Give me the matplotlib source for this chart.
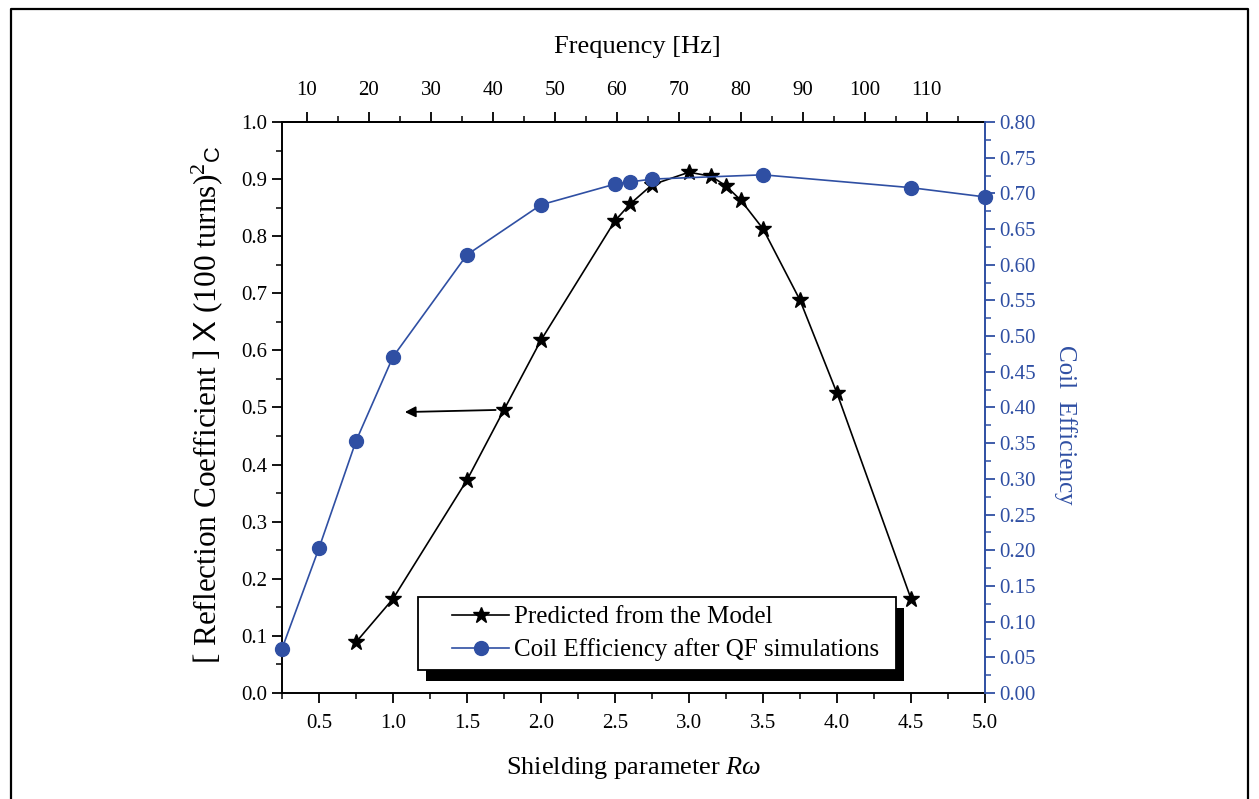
import numpy as np
import matplotlib
matplotlib.use("Agg")
import matplotlib.pyplot as plt
from matplotlib.lines import Line2D
from matplotlib.patches import Rectangle
from matplotlib.legend_handler import HandlerLine2D
from matplotlib.ticker import MultipleLocator, FormatStrFormatter

plt.rcParams['font.family'] = ['Liberation Serif', 'DejaVu Serif']
plt.rcParams['mathtext.fontset'] = 'custom'
plt.rcParams['mathtext.rm'] = 'Liberation Serif'
plt.rcParams['mathtext.it'] = 'Liberation Serif:italic'
plt.rcParams['mathtext.sf'] = 'Liberation Sans'

BLUE = '#2f4fa3'

# Predicted reflection coefficient (left axis)
rw_model = [0.75, 1.0, 1.5, 1.75, 2.0, 2.5, 2.6, 2.75, 3.0, 3.15, 3.25, 3.35, 3.5, 3.75, 4.0, 4.5]
refl_model = [0.089, 0.165, 0.373, 0.496, 0.618, 0.827, 0.856, 0.890, 0.912, 0.905,
              0.888, 0.863, 0.813, 0.688, 0.525, 0.165]

# Coil efficiency from QF simulations (right axis)
rw_sim = [0.25, 0.5, 0.75, 1.0, 1.5, 2.0, 2.5, 2.6, 2.75, 3.5, 4.5, 5.0]
eff_sim = [0.062, 0.203, 0.353, 0.471, 0.614, 0.684, 0.713, 0.716, 0.720, 0.726, 0.708, 0.695]

# Rw per Hz for the frequency scale on top
RW_PER_HZ = 0.04187

# arrow pointing the model curve to the left axis
arrow_tail = (1.75, 0.496)
arrow_head = (1.08, 0.492)

fig = plt.figure(figsize=(12.59, 7.99), dpi=100)
ax = fig.add_axes([282/1259, 106/799, 703/1259, 571/799])
ax2 = ax.twinx()
ax.set_facecolor('none')
ax2.set_facecolor('none')

ln1, = ax.plot(rw_model, refl_model, color='black', lw=1.2, marker='*',
               ms=12, mfc='black', mec='black', label='Predicted from the Model')
ln2, = ax2.plot(rw_sim, eff_sim, color=BLUE, lw=1.2, marker='o', ms=10,
                mfc=BLUE, mec=BLUE, label='Coil Efficiency after QF simulations', clip_on=False)

ax.annotate('', xy=arrow_head, xytext=arrow_tail,
            arrowprops=dict(arrowstyle='-|>', color='black', lw=1.3,
                            mutation_scale=16, shrinkA=6, shrinkB=0))

ax.set_xlim(0.25, 5.0)
ax.set_ylim(0, 1.0)
ax2.set_ylim(0, 0.8)

ax.xaxis.set_major_locator(MultipleLocator(0.5))
ax.xaxis.set_minor_locator(MultipleLocator(0.25))
ax.xaxis.set_major_formatter(FormatStrFormatter('%.1f'))
ax.yaxis.set_major_locator(MultipleLocator(0.1))
ax.yaxis.set_minor_locator(MultipleLocator(0.05))
ax.yaxis.set_major_formatter(FormatStrFormatter('%.1f'))
ax2.yaxis.set_major_locator(MultipleLocator(0.05))
ax2.yaxis.set_minor_locator(MultipleLocator(0.025))
ax2.yaxis.set_major_formatter(FormatStrFormatter('%.2f'))

for a in (ax, ax2):
    a.tick_params(which='major', direction='out', length=7, width=1.3, labelsize=15)
    a.tick_params(which='minor', direction='out', length=4, width=1.1)
    for s in a.spines.values():
        s.set_linewidth(1.4)

ax.spines['right'].set_visible(False)
ax.tick_params(axis='x', pad=8)
for side in ('left', 'top', 'bottom'):
    ax2.spines[side].set_visible(False)
ax2.spines['right'].set_color(BLUE)
ax2.tick_params(axis='y', which='both', colors=BLUE, labelcolor=BLUE)

# frequency scale along the top
top = ax.secondary_xaxis('top', functions=(lambda r: r / RW_PER_HZ, lambda f: f * RW_PER_HZ))
top.xaxis.set_major_locator(MultipleLocator(10))
top.xaxis.set_minor_locator(MultipleLocator(5))
top.tick_params(which='major', direction='out', length=7, width=1.3, labelsize=15, pad=9)
top.tick_params(which='minor', direction='out', length=4, width=1.1)
top.spines['top'].set_linewidth(1.4)

fig.text(637/1259, 1 - 47/799, 'Frequency [Hz]', ha='center', va='center', fontsize=19)
fig.text(634/1259, 1 - 768/799, r'Shielding parameter $R\omega$', ha='center', va='center', fontsize=19)
fig.text(207/1259, 1 - 405/799,
         r'[ Reflection Coefficient ] $\mathsf{X}$ (100 turns)$^{2}{}_{\mathsf{C}}$',
         ha='center', va='center', rotation=90, fontsize=22.5)
fig.text(1065/1259, 1 - 425/799, 'Coil  Efficiency', ha='center', va='center',
         rotation=270, fontsize=18, color=BLUE)

leg = ax2.legend([ln1, ln2], [ln1.get_label(), ln2.get_label()],
                 loc='lower left', bbox_to_anchor=(418/1259, 129/799, 478/1259, 72/799),
                 bbox_transform=fig.transFigure, mode='expand', borderaxespad=0,
                 fancybox=False, framealpha=1, edgecolor='black', fontsize=18,
                 handlelength=3.3, handletextpad=0.2, borderpad=0.35, labelspacing=0.4,
                 handler_map={ln1: HandlerLine2D(xpad=1.0), ln2: HandlerLine2D(xpad=1.0)})
leg.get_frame().set_linewidth(1.3)

# solid drop shadow behind the legend box
fig.canvas.draw()
bb = leg.get_window_extent().transformed(fig.transFigure.inverted())
shadow = Rectangle((bb.x0 + 8/1259, bb.y0 - 11/799), bb.width, bb.height,
                   transform=fig.transFigure, facecolor='black', edgecolor='none',
                   zorder=4, clip_on=False)
ax2.add_patch(shadow)
leg.set_zorder(6)

# page frame
fig.add_artist(Line2D([11/1259, 11/1259, 1248/1259, 1248/1259],
                      [0, 1 - 9/799, 1 - 9/799, 0], color='black', lw=1.6))

fig.savefig('out.png', dpi=100)
